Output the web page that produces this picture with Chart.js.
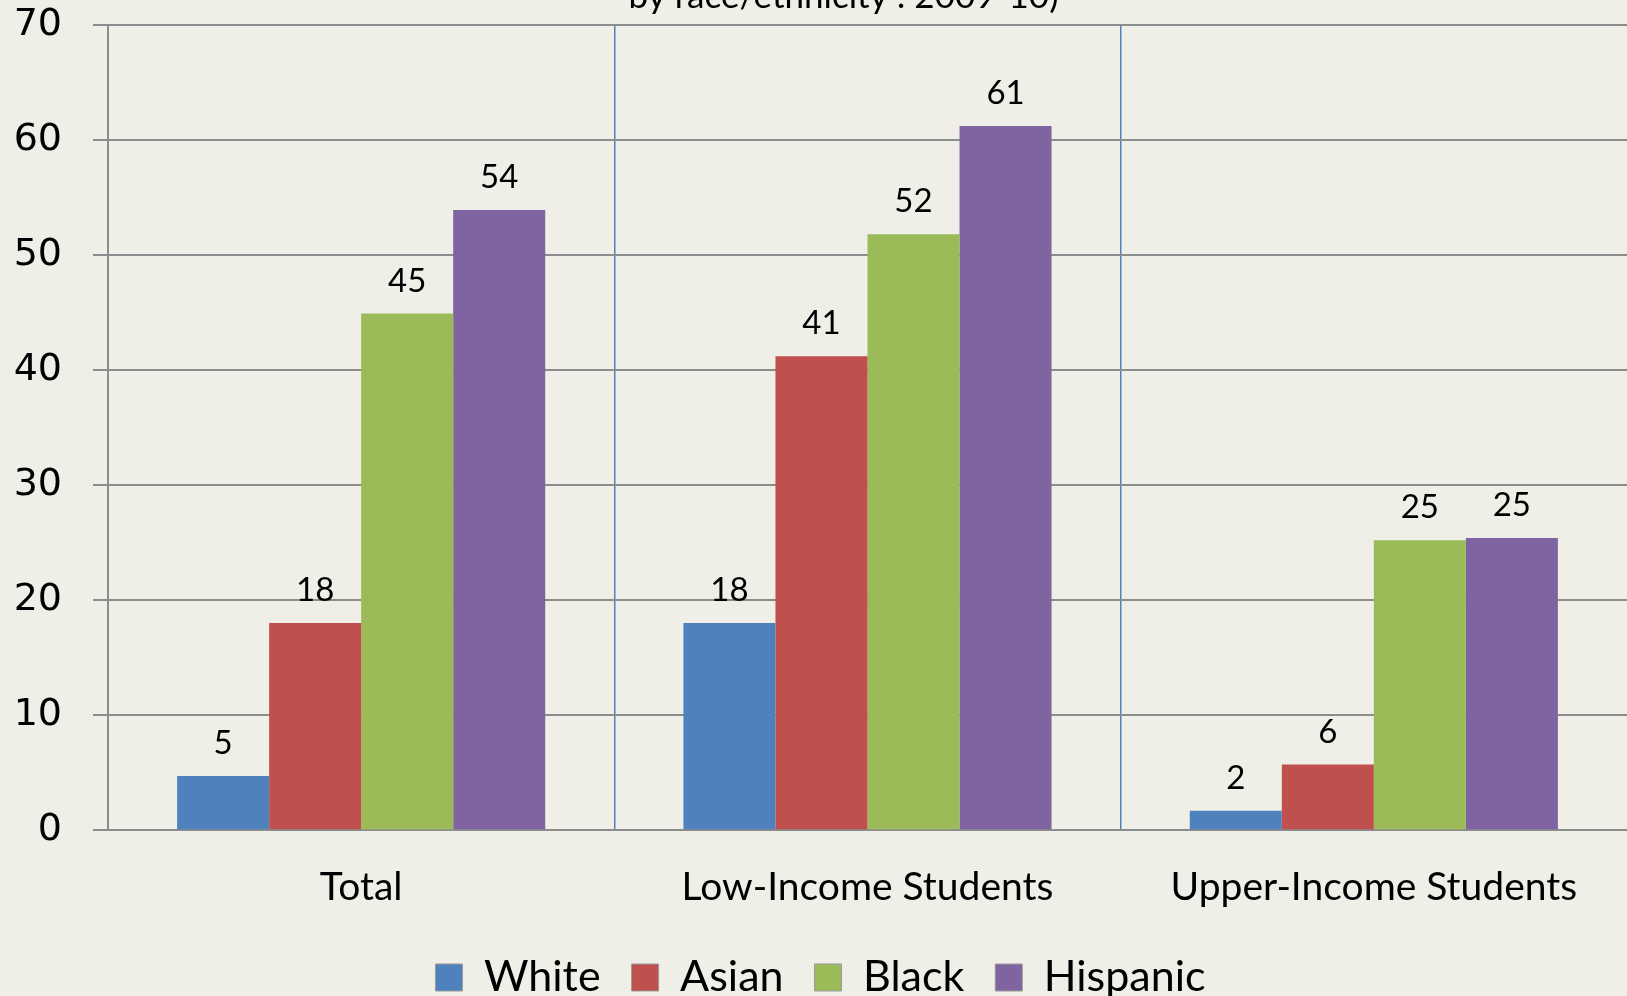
<!DOCTYPE html>
<html>
<head>
<meta charset="utf-8">
<script src="https://cdn.jsdelivr.net/npm/chart.js@4.4.0/dist/chart.umd.min.js"></script>
<style>
  html, body { margin: 0; padding: 0; background: #efeee7; overflow: hidden; }
  #wrap { width: 1627px; height: 1038px; position: relative; top: -29px; }
</style>
</head>
<body>
<div id="wrap"><canvas id="chart"></canvas></div>
<script>
    const categories = ['Total', 'Low-Income Students', 'Upper-Income Students'];
    const white = [4.7, 18.0, 1.7];
    const asian = [18.0, 41.2, 5.7];
    const black = [44.9, 51.8, 25.2];
    const hispanic = [53.9, 61.2, 25.4];
    const yTicks = [0, 10, 20, 30, 40, 50, 60, 70];
    const subtitle = 'by race/ethnicity : 2009-10)';

    const gridGray = '#8c8c8c';
    const sepBlue = '#4f81bd';

    // numbers above each bar, rounded like the source table
    const barValues = {
        id: 'barValues',
        afterDatasetsDraw(chart) {
            const ctx = chart.ctx;
            ctx.save();
            ctx.font = '33px Lato';
            ctx.fillStyle = '#000';
            ctx.textAlign = 'center';
            ctx.textBaseline = 'bottom';
            chart.data.datasets.forEach((ds, i) => {
                chart.getDatasetMeta(i).data.forEach((bar, j) => {
                    ctx.fillText(Math.round(ds.data[j]), bar.x, bar.y - 16);
                });
            });
            ctx.restore();
        }
    };

    // second title line, mostly clipped by the top edge
    const topLine = {
        id: 'topLine',
        afterDraw(chart) {
            const ctx = chart.ctx;
            const area = chart.chartArea;
            ctx.save();
            ctx.font = '35px Lato';
            ctx.fillStyle = '#000';
            ctx.textAlign = 'center';
            ctx.textBaseline = 'alphabetic';
            ctx.fillText(subtitle, (area.left + area.right) / 2 - 24, 37);
            ctx.restore();
        }
    };

    const ctx = document.getElementById('chart').getContext('2d');
    const chart = new Chart(ctx, {
        type: 'bar',
        data: {
            labels: categories,
            datasets: [
                { label: 'White', data: white, backgroundColor: '#4f81bd' },
                { label: 'Asian', data: asian, backgroundColor: '#c0504d' },
                { label: 'Black', data: black, backgroundColor: '#9bbb59' },
                { label: 'Hispanic', data: hispanic, backgroundColor: '#8064a2' }
            ]
        },
        options: {
            responsive: true,
            maintainAspectRatio: false,
            animation: false,
            layout: { padding: { top: 0, left: 14, right: 0, bottom: 0 } },
            datasets: {
                bar: { categoryPercentage: 0.727, barPercentage: 1.0, borderWidth: 0 }
            },
            plugins: {
                tooltip: { enabled: false },
                title: { display: false },
                legend: {
                    position: 'bottom',
                    labels: {
                        font: { family: 'Lato', size: 43 },
                        color: '#000',
                        boxWidth: 27,
                        boxHeight: 27,
                        padding: 31,
                        generateLabels(chart) {
                            return chart.data.datasets.map((ds, i) => ({
                                text: ds.label,
                                fillStyle: ds.backgroundColor,
                                strokeStyle: '#999',
                                lineWidth: 1,
                                datasetIndex: i
                            }));
                        }
                    }
                }
            },
            scales: {
                x: {
                    afterFit: axis => { axis.height -= 20; },
                    grid: {
                        offset: true,
                        drawTicks: false,
                        lineWidth: 1.5,
                        color: c => (c.index === 1 || c.index === 2) ? sepBlue : 'rgba(0,0,0,0)'
                    },
                    border: { color: gridGray, width: 2 },
                    ticks: {
                        font: { family: 'Lato', size: 39 },
                        color: '#000',
                        padding: 34
                    }
                },
                y: {
                    min: 0,
                    max: 70,
                    afterBuildTicks: axis => { axis.ticks = yTicks.map(v => ({ value: v })); },
                    afterFit: axis => { axis.width = 94; },
                    grid: { color: gridGray, lineWidth: 2, tickLength: 15 },
                    border: { color: gridGray, width: 2 },
                    ticks: {
                        font: { family: 'DejaVu Sans', size: 38 },
                        color: '#000',
                        padding: 31
                    }
                }
            }
        },
        plugins: [barValues, topLine]
    });
</script>
</body>
</html>
